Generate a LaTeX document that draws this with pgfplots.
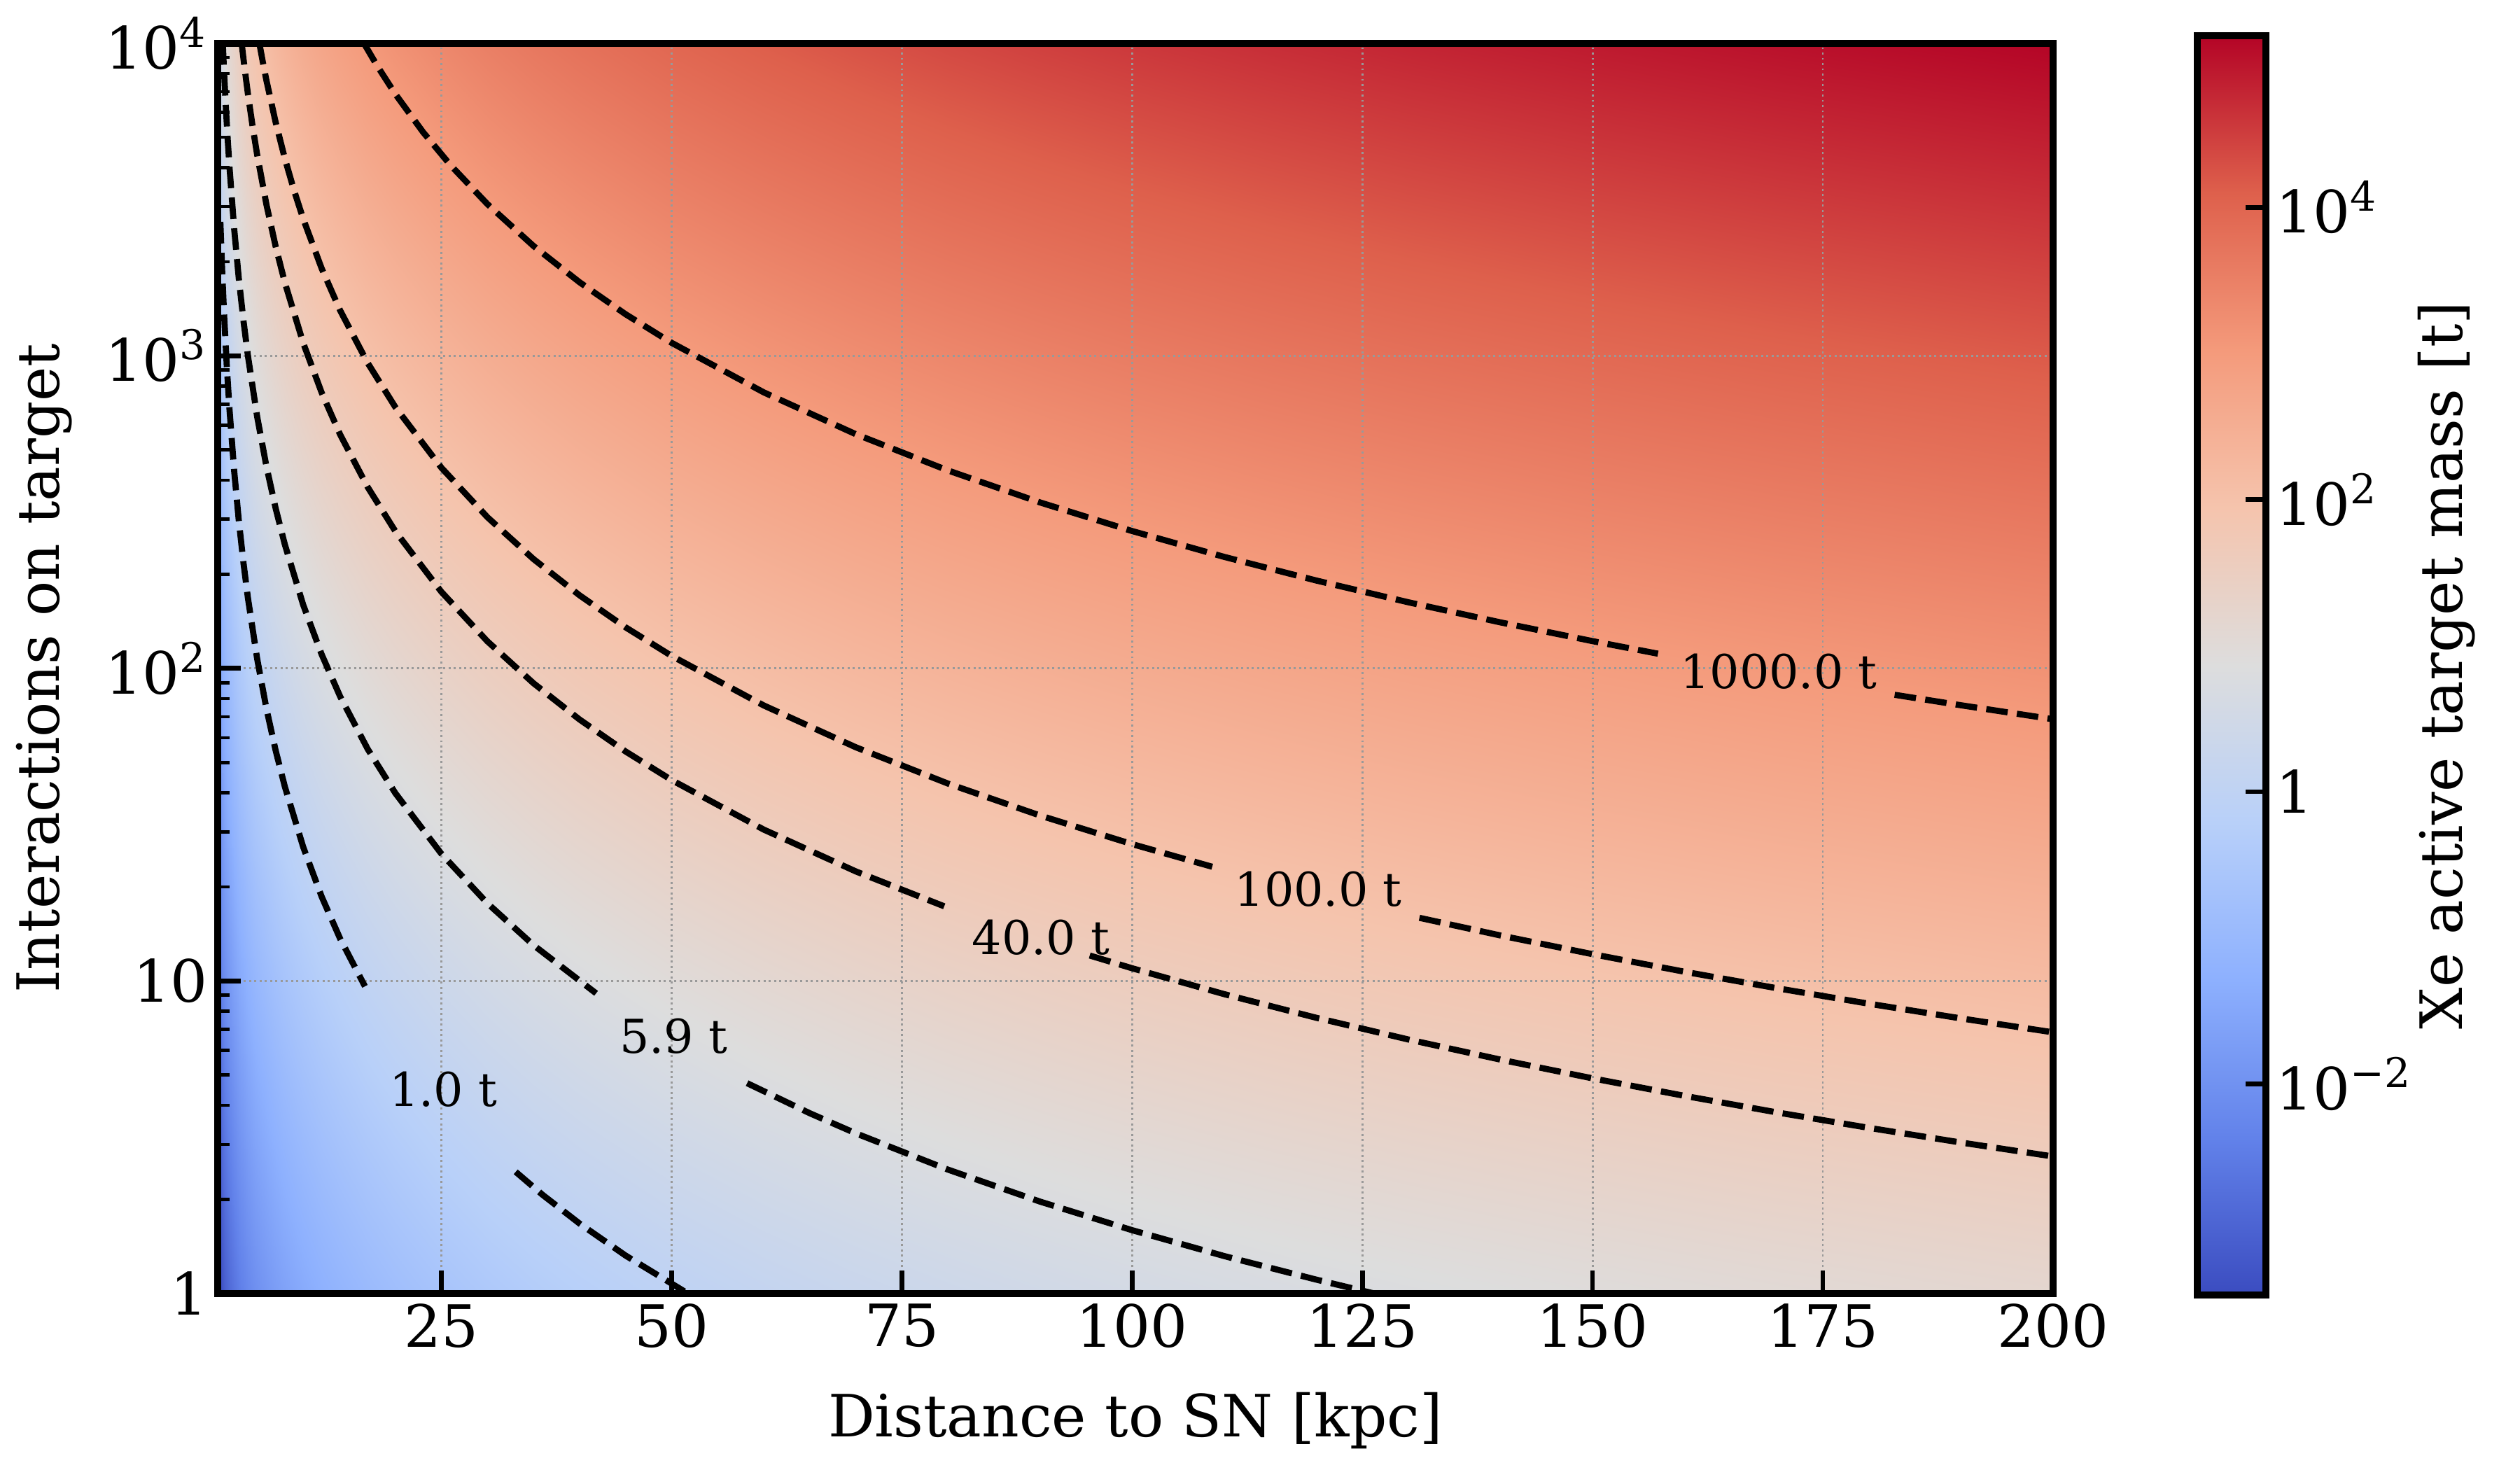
\documentclass[border=0pt]{standalone}
\usepackage{fontspec}
\setmainfont{DejaVu Serif}
\usepackage{pgfplots}
\pgfplotsset{compat=1.18}
\usepackage{pgfplotstable}

\newcommand\tkfont{\fontsize{20bp}{24bp}\selectfont}
\newcommand\clfont{\fontsize{16bp}{19bp}\selectfont}

\pgfplotsset{colormap={coolwarm}{rgb255=(59,76,192) rgb255=(98,130,234) rgb255=(141,176,254) rgb255=(184,208,249) rgb255=(221,221,221) rgb255=(245,196,173) rgb255=(244,154,123) rgb255=(222,96,76) rgb255=(180,4,38)}}

% log10 of the active target mass on a (distance, interactions) grid
\pgfplotstableread{
x y c
0.7 1 -3.430
1 1 -3.430
1.5 1 -3.078
2 1 -2.828
2.5 1 -2.634
3 1 -2.476
4 1 -2.226
5 1 -2.032
6 1 -1.874
7 1 -1.740
8 1 -1.624
10 1 -1.430
12 1 -1.272
14 1 -1.138
17 1 -0.969
20 1 -0.828
25 1 -0.634
30 1 -0.476
35 1 -0.342
40 1 -0.226
50 1 -0.032
60 1 0.126
70 1 0.260
80 1 0.376
90 1 0.479
100 1 0.570
115 1 0.691
130 1 0.798
150 1 0.922
170 1 1.031
200 1 1.172
0.7 10000 0.570
1 10000 0.570
1.5 10000 0.922
2 10000 1.172
2.5 10000 1.366
3 10000 1.524
4 10000 1.774
5 10000 1.968
6 10000 2.126
7 10000 2.260
8 10000 2.376
10 10000 2.570
12 10000 2.728
14 10000 2.862
17 10000 3.031
20 10000 3.172
25 10000 3.366
30 10000 3.524
35 10000 3.658
40 10000 3.774
50 10000 3.968
60 10000 4.126
70 10000 4.260
80 10000 4.376
90 10000 4.479
100 10000 4.570
115 10000 4.691
130 10000 4.798
150 10000 4.922
170 10000 5.031
200 10000 5.172
}\heat

% colour bar: log10 mass from minimum to maximum
\pgfplotstableread{
x y
0 -3.445
1 -3.445
0 5.176
1 5.176
}\cbar

\tikzset{cline/.style={black, line width=2.1bp, dash pattern=on 7.4bp off 3.2bp}}

\begin{document}
\begin{tikzpicture}
\begin{axis}[
  at={(0,0)}, anchor=south west,
  set layers,
  scale only axis, width=629.3bp, height=428.7bp,
  xmin=0.7, xmax=200, ymode=log, ymin=1, ymax=10000,
  xtick={25,50,75,100,125,150,175,200},
  xticklabels={25,50,75,100,125,150,175,200},
  ytick={1,10,100,1000,10000},
  yticklabels={1,10,10\textsuperscript{2},10\textsuperscript{3},10\textsuperscript{4}},
  minor ytick={2,3,4,5,6,7,8,9,20,30,40,50,60,70,80,90,200,300,400,500,600,700,800,900,2000,3000,4000,5000,6000,7000,8000,9000},
  tick pos=left, tick align=inside,
  major tick length=8bp, minor tick length=4bp,
  major tick style={line width=1.6bp, black},
  minor tick style={line width=1.1bp, black},
  grid=major,
  major grid style={line width=0.7bp, color=black!40, dash pattern=on 0.7bp off 1.1bp},
  axis line style={line width=2.4bp},
  tick label style={font=\tkfont},
  xlabel={Distance to SN [kpc]},
  ylabel={Interactions on target},
  every axis x label/.style={at={(axis description cs:0.5,-0.1019)}, anchor=center, font=\tkfont},
  every axis y label/.style={at={(axis description cs:-0.0943,0.5)}, anchor=center, rotate=90, font=\tkfont},
  colormap name=coolwarm,
  point meta min=-3.445, point meta max=5.176,
]
\addplot[surf, shader=interp, mesh/cols=31, mesh/rows=2, point meta=explicit, on layer=axis background] table[x=x, y=y, meta=c] {\heat};

% 1000.0 t
\addplot[cline] coordinates {(16.583,10000) (18,8488) (20,6875) (23,5198) (26,4068) (30,3056) (35,2245) (40,1719) (45,1358) (50,1100) (60,763.9) (70,561.2) (80,429.7) (90,339.5) (100,275) (110,227.3) (120,191.0) (130,162.7) (140,140.3) (150,122.2) (157.1,111.4)};
\addplot[cline] coordinates {(182.8,82.3) (190,76.2) (200,68.75)};
% 100.0 t
\addplot[cline] coordinates {(5.2345,10000) (5.6,8737) (6,7611) (7,5592) (8,4281) (9,3383) (10,2740) (12,1903) (14,1398) (17,948.1) (20,685) (25,438.4) (30,304.4) (35,223.7) (40,171.3) (45,135.3) (50,109.6) (60,76.11) (70,55.92) (80,42.81) (90,33.83) (100,27.4) (108.7,23.19)};
\addplot[cline] coordinates {(131.2,15.92) (140,13.98) (150,12.18) (160,10.70) (170,9.481) (180,8.457) (190,7.590) (200,6.85)};
% 40.0 t
\addplot[cline] coordinates {(3.3136,10000) (3.6,8472) (4,6863) (4.5,5422) (5,4392) (6,3050) (7,2241) (8,1716) (10,1098) (12,762.5) (14,560.2) (17,379.9) (20,274.5) (25,175.7) (30,122.0) (35,89.63) (40,68.63) (45,54.22) (50,43.92) (60,30.5) (70,22.41) (79.6,17.33)};
\addplot[cline] coordinates {(95.4,12.06) (100,10.98) (110,9.074) (120,7.625) (130,6.497) (140,5.602) (150,4.880) (160,4.289) (170,3.799) (180,3.389) (190,3.042) (200,2.745)};
% 5.9 t
\addplot[cline] coordinates {(1.2629,10000) (1.4,8138) (1.6,6230) (1.8,4923) (2,3988) (2.5,2552) (3,1772) (3.5,1302) (4,996.9) (5,638) (6,443.1) (7,325.5) (8,249.2) (10,159.5) (12,110.8) (14,81.38) (17,55.19) (20,39.88) (25,25.52) (30,17.72) (35,13.02) (41.8,9.129)};
\addplot[cline] coordinates {(58.2,4.709) (65,3.775) (70,3.255) (80,2.492) (90,1.969) (100,1.595) (110,1.318) (120,1.108) (126.3,1.0)};
% 1.0 t
\addplot[cline] coordinates {(1,2680) (1.2,1861) (1.4,1367) (1.7,927.3) (2,670) (2.5,428.8) (3,297.8) (3.5,218.8) (4,167.5) (5,107.2) (6,74.44) (7,54.69) (8,41.88) (10,26.8) (12,18.61) (14,13.67) (16.7,9.61)};
\addplot[cline] coordinates {(33.07,2.451) (36,2.068) (40,1.675) (45,1.323) (51.77,1.0)};

\node[font=\clfont] at (axis cs:170.2,97.9) {1000.0 t};
\node[font=\clfont] at (axis cs:120.2,19.7) {100.0 t};
\node[font=\clfont] at (axis cs:90.1,13.8) {40.0 t};
\node[font=\clfont] at (axis cs:50.2,6.66) {5.9 t};
\node[font=\clfont] at (axis cs:25.2,4.5) {1.0 t};
\end{axis}

\begin{axis}[
  at={(678.7bp,-0.5bp)}, anchor=south west,
  scale only axis, width=23.5bp, height=431.8bp,
  xmin=0, xmax=1, ymin=-3.445, ymax=5.176,
  xtick=\empty,
  ytick={-2,0,2,4},
  yticklabels={10\textsuperscript{−2},1,10\textsuperscript{2},10\textsuperscript{4}},
  ytick pos=right, yticklabel pos=right,
  tick align=inside, major tick length=7bp,
  major tick style={line width=1.6bp, black},
  axis line style={line width=2.4bp},
  tick label style={font=\tkfont},
  ylabel={Xe active target mass [t]},
  every axis y label/.style={at={(axis description cs:3.638,0.5)}, anchor=center, rotate=90, font=\tkfont},
  colormap name=coolwarm,
  point meta min=-3.445, point meta max=5.176,
  axis on top,
]
\addplot[surf, shader=interp, mesh/cols=2, mesh/rows=2, point meta=\thisrow{y}] table[x=x, y=y] {\cbar};
\end{axis}
\pgfresetboundingbox
\path[use as bounding box] (-74.6bp,-60.5bp) rectangle (789.4bp,443.5bp);
\end{tikzpicture}
\end{document}
